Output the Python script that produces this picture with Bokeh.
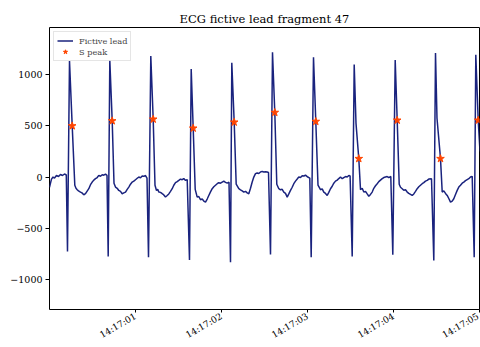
from datetime import datetime, timezone
from bokeh.plotting import figure
from bokeh.models import (Range1d, FixedTicker, DatetimeTickFormatter, Legend,
                          LegendItem, ColumnDataSource)
from bokeh.embed import file_html
from bokeh.resources import INLINE

TITLE = "ECG fictive lead fragment 47"
START = datetime(2024, 1, 1, 14, 17, 0, tzinfo=timezone.utc)

# Fictive lead: seconds after 14:17:00 and amplitude
lead_t = [
    0.0000, 0.0116, 0.0233, 0.0407, 0.0581, 0.0814, 0.1047, 0.1279, 0.1512, 0.1744, 0.1953,
    0.2093, 0.2326, 0.2640, 0.2942, 0.3081, 0.3221, 0.3372, 0.3605, 0.3779, 0.3988, 0.4186,
    0.4360, 0.4570, 0.4767, 0.4965, 0.5151, 0.5349, 0.5547, 0.5733, 0.5930, 0.6128, 0.6314,
    0.6512, 0.6686,
    0.6826, 0.7012, 0.7291, 0.7500, 0.7674, 0.7872, 0.8058, 0.8256, 0.8453, 0.8640, 0.8837,
    0.9035, 0.9221, 0.9419, 0.9616, 0.9802, 1.0000, 1.0198, 1.0384, 1.0581, 1.0779, 1.0965,
    1.1163, 1.1337,
    1.1512, 1.1779, 1.2058, 1.2267, 1.2442, 1.2581, 1.2709, 1.2907, 1.3105, 1.3291, 1.3488,
    1.3686, 1.3872, 1.4070, 1.4267, 1.4453, 1.4651, 1.4849, 1.5035, 1.5233, 1.5430, 1.5616,
    1.5814, 1.6012,
    1.6279, 1.6477, 1.6709, 1.6942, 1.7174, 1.7360, 1.7558, 1.7756, 1.7942, 1.8140, 1.8337,
    1.8523, 1.8721, 1.8919, 1.9105, 1.9302, 1.9500, 1.9686, 1.9884, 2.0081, 2.0267, 2.0465,
    2.0663, 2.0872,
    2.1047, 2.1198, 2.1477, 2.1709, 2.2012, 2.2209, 2.2407, 2.2593, 2.2791, 2.2988, 2.3174,
    2.3372, 2.3570, 2.3756, 2.3953, 2.4151, 2.4337, 2.4535, 2.4733, 2.4919, 2.5116, 2.5314,
    2.5465,
    2.5698, 2.5930, 2.6198, 2.6430, 2.6663, 2.6860, 2.7058, 2.7244, 2.7442, 2.7640, 2.7826,
    2.8023, 2.8221, 2.8407, 2.8605, 2.8802, 2.8988, 2.9186, 2.9384, 2.9570, 2.9767, 3.0035,
    3.0267,
    3.0430, 3.0698, 3.0965, 3.1221, 3.1512, 3.1709, 3.1895, 3.2093, 3.2291, 3.2477, 3.2674,
    3.2872, 3.3058, 3.3256, 3.3453, 3.3640, 3.3837, 3.4035, 3.4221, 3.4419, 3.4616, 3.4802,
    3.4953,
    3.5198, 3.5430, 3.5640, 3.5965, 3.6163, 3.6360, 3.6547, 3.6744, 3.6942, 3.7128, 3.7326,
    3.7523, 3.7709, 3.7907, 3.8105, 3.8291, 3.8488, 3.8686, 3.8872, 3.9070, 3.9267, 3.9453,
    3.9686,
    3.9919, 4.0198, 4.0430, 4.0663, 4.0814, 4.1012, 4.1198, 4.1395, 4.1593, 4.1779, 4.1977,
    4.2174, 4.2360, 4.2558, 4.2756, 4.2942, 4.3140, 4.3337, 4.3523, 4.3721, 4.3919, 4.4105,
    4.4419,
    4.4686, 4.4884, 4.5058, 4.5465, 4.5663, 4.5849, 4.6047, 4.6244, 4.6430, 4.6628, 4.6826,
    4.7012, 4.7209, 4.7407, 4.7593, 4.7791, 4.7988, 4.8174, 4.8372, 4.8570, 4.8756, 4.8953,
    4.9151,
    4.9384, 4.9570, 4.9849, 5.0058,
]
lead_v = [
    -100, -60, -20, 0, -10, 15, 5, 25, 15, 30, 20,
    -728, 1134, 500, -81, -110, -124, -135, -147, -155, -173, -163,
    -140, -114, -75, -49, -30, -16, -5, 16, 8, 23, 18,
    28, 16,
    -777, 1143, 549, -60, -98, -110, -131, -140, -163, -155, -147,
    -120, -98, -70, -49, -40, -26, -12, 0, -8, 10, 7,
    15, -10,
    -784, 1183, 565, -80, -131, -120, -147, -150, -163, -175, -195,
    -180, -165, -140, -114, -80, -55, -45, -33, -20, -26, -15,
    -33, -25,
    -810, 1055, 477, -120, -196, -190, -222, -215, -235, -245, -215,
    -180, -145, -114, -95, -80, -65, -55, -60, -49, -40, -52,
    -59, -50,
    -833, 1117, 536, -70, -114, -125, -135, -147, -140, -155, -163,
    -110, -49, 0, 33, 40, 35, 49, 55, 50, 52, 49,
    45,
    -758, 1219, 631, -70, -114, -125, -120, -147, -160, -196, -165,
    -131, -100, -65, -40, -20, 0, -5, 12, 10, 18, 0,
    -10,
    -784, 1170, 543, -80, -124, -115, -147, -160, -180, -150, -114,
    -90, -60, -40, -30, -15, 0, -16, -5, 5, 0, 16,
    10,
    -777, 1101, 525, 180, -124, -110, -147, -140, -165, -188, -170,
    -147, -110, -85, -65, -45, -30, -16, -5, 0, 5, -5,
    5,
    -760, 1143, 555, -70, -100, -114, -130, -125, -147, -160, -170,
    -180, -165, -140, -114, -95, -80, -65, -55, -40, -33, -20,
    -16,
    -816, 1212, 575, 180, -147, -135, -160, -180, -210, -245, -235,
    -212, -170, -130, -98, -80, -60, -49, -35, -25, -16, 0,
    7,
    -784, 1196, 555, 250,
]

# S peaks
speak_t = [0.2640, 0.7291, 1.2058, 1.6709, 2.1477, 2.6198, 3.0965, 3.5965, 4.0430, 4.5465, 4.9849]
speak_v = [500, 549, 565, 477, 536, 631, 543, 180, 555, 180, 555]

x_ticks_s = [1, 2, 3, 4, 5]
y_ticks = [-1000, -500, 0, 500, 1000]
y_labels = {-1000: "\u22121000", -500: "\u2212500", 0: "0", 500: "500", 1000: "1000"}

base_ms = START.timestamp() * 1000.0
lead_src = ColumnDataSource(dict(x=[base_ms + t * 1000.0 for t in lead_t], y=lead_v))
peak_src = ColumnDataSource(dict(x=[base_ms + t * 1000.0 for t in speak_t], y=speak_v))

FONT = "DejaVu Serif"
LINE_COLOR = "#1a237e"
STAR_COLOR = "#ff4500"

p = figure(width=480, height=347, x_axis_type="datetime",
           x_range=Range1d(base_ms, base_ms + 5000.0),
           y_range=Range1d(-1295, 1462),
           output_backend="svg", toolbar_location=None,
           min_border_left=49, min_border_right=1, min_border_top=27, min_border_bottom=38)

p.title.text = TITLE
p.title.text_font = FONT
p.title.text_font_size = "11.5px"
p.title.text_font_style = "normal"
p.title.align = "center"
p.title.text_color = "black"
p.title.standoff = 4

p.grid.visible = False
p.outline_line_color = "black"
p.outline_line_width = 1
p.background_fill_color = "white"
p.border_fill_color = "white"

line_r = p.line("x", "y", source=lead_src, line_color=LINE_COLOR, line_width=1.5)
star_r = p.scatter("x", "y", source=peak_src, marker="star", size=8,
                   fill_color=STAR_COLOR, line_color=STAR_COLOR)

p.xaxis.ticker = FixedTicker(ticks=[base_ms + s * 1000.0 for s in x_ticks_s])
fmt = "%H:%M:%S"
p.xaxis.formatter = DatetimeTickFormatter(
    microseconds=fmt, milliseconds=fmt, seconds=fmt, minsec=fmt, minutes=fmt,
    hourmin=fmt, hours=fmt, days=fmt, months=fmt, years=fmt)
p.xaxis.major_label_orientation = 0.5236
p.yaxis.ticker = FixedTicker(ticks=y_ticks)
p.yaxis.major_label_overrides = y_labels

for ax in (p.xaxis, p.yaxis):
    ax.axis_line_color = None
    ax.major_tick_line_color = "black"
    ax.major_tick_out = 4
    ax.major_tick_in = 0
    ax.minor_tick_line_color = None
    ax.major_label_text_font = FONT
    ax.major_label_text_font_size = "9.5px"
    ax.major_label_text_color = "black"
p.yaxis.major_label_standoff = 3
p.xaxis.major_label_standoff = 3
p.xaxis.major_tick_out = 3
p.xaxis.major_label_text_font_size = "9px"

legend = Legend(items=[LegendItem(label="Fictive lead", renderers=[line_r]),
                       LegendItem(label="S peak", renderers=[star_r])],
                location="top_left")
legend.margin = 4
legend.padding = 3
legend.spacing = 0
legend.glyph_width = 16
legend.glyph_height = 11
legend.label_standoff = 6
legend.label_height = 11
legend.label_text_font = FONT
legend.label_text_font_size = "8.2px"
legend.border_line_color = "#cccccc"
legend.background_fill_alpha = 0.8
p.add_layout(legend)

open("out.html", "w").write(file_html(p, INLINE))
